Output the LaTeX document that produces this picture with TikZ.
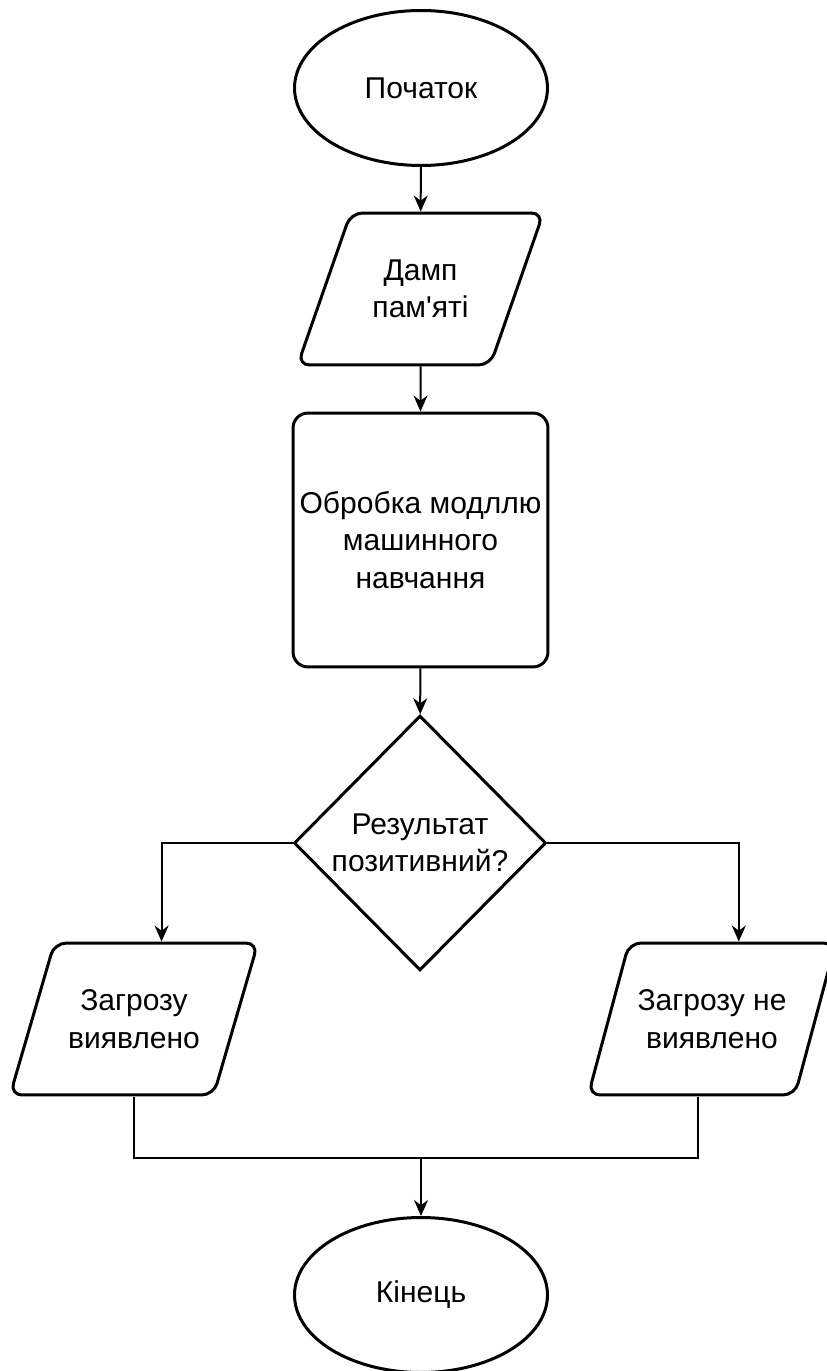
\documentclass[tikz,border=0pt]{standalone}
\usepackage{fontspec}
\setmainfont{Liberation Sans}
\usepackage{tikz}
\usetikzlibrary{arrows.meta,calc,shapes,shapes.geometric,positioning}

\begin{document}
\begin{tikzpicture}[x=0.02cm,y=-0.02cm,
	txt/.style={font=\fontsize{17.1}{21.3}\selectfont,align=center,text=black,inner sep=0pt},
	term/.style={txt,ellipse,draw,line width=0.06cm,minimum width=5.06cm,minimum height=3.1cm},
	io/.style={txt,trapezium,trapezium left angle=58,trapezium right angle=122,trapezium stretches=true,draw,line width=0.06cm,rounded corners=0.24cm,minimum width=4.96cm,minimum height=3.04cm},
	proc/.style={txt,rectangle,draw,line width=0.06cm,rounded corners=0.3cm,minimum width=5.1cm,minimum height=5.08cm},
	dec/.style={txt,diamond,draw,line width=0.06cm,minimum width=5.04cm,minimum height=5.1cm},
	conn/.style={line width=0.04cm,-{Stealth[length=0.32cm,width=0.28cm]}},
	line/.style={line width=0.04cm}]

\useasboundingbox (0,0) rectangle (827,1371);

\node[term] (start) at (421,88) {Початок};% start
\node[io] (dump) at (420.5,289) {Дамп\\пам\textquotesingle яті};% input
\node[proc] (model) at (420.5,540) {Обробка модллю\\машинного\\навчання};
\node[dec] (check) at (420,843) {Результат\\позитивний?};

	\node[io] (found) at (134,1019) {Загрозу\\виявлено};% left
	\node[io] (notfound) at (712,1019) {Загрозу не\\виявлено};% right

\node[term] (stop) at (421,1295) {Кінець};% end

\coordinate (merge) at (421,1158);

\draw[conn] (start) -- (dump);
\draw[conn] (dump) -- (model);
\draw[conn] (model) -- (check);

\draw[conn] (check.west) -| ([xshift=0.1cm]found.top side);
\draw[conn] (check.east) -| ([xshift=0.12cm]notfound.top side);

\draw[line] (found.south) |- (merge);
\draw[line] ([xshift=-0.28cm]notfound.south) |- (merge);
\draw[conn] (merge) -- (stop);

\end{tikzpicture}
\end{document}
